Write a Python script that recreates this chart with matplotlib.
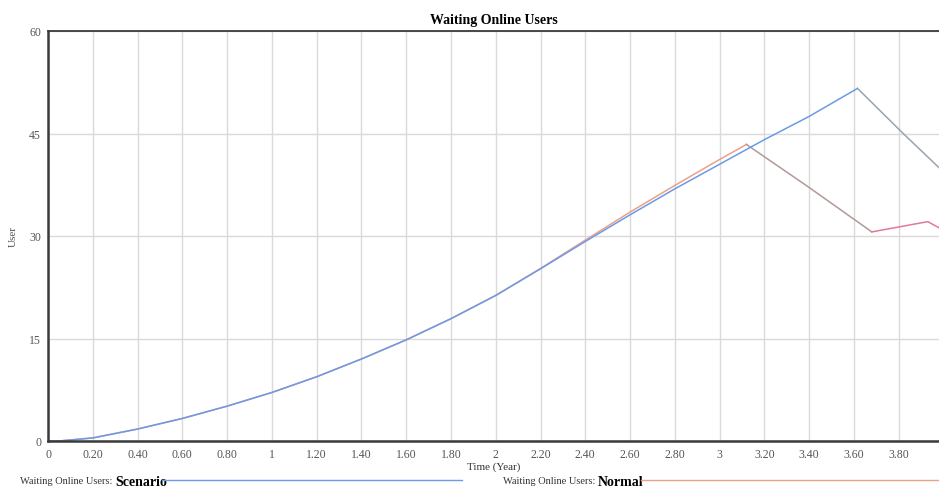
import matplotlib.pyplot as plt
from matplotlib.lines import Line2D

# values (Time in years -> users)
scenario_time = [0, 0.05, 0.2, 0.4, 0.6, 0.8, 1.0, 1.2, 1.4, 1.6, 1.8, 2.0,
                 2.2, 2.4, 2.6, 2.8, 3.0, 3.2, 3.4, 3.616, 3.82, 3.98]
scenario_users = [0, 0, 0.45, 1.75, 3.3, 5.1, 7.1, 9.4, 12.0, 14.8, 17.9, 21.3,
                  25.2, 29.2, 33.1, 36.9, 40.5, 44.1, 47.5, 51.6, 45.0, 40.0]

normal_time = [0, 0.05, 0.2, 0.4, 0.6, 0.8, 1.0, 1.2, 1.4, 1.6, 1.8, 2.0,
               2.2, 2.4, 2.6, 2.8, 3.0, 3.12, 3.4, 3.68, 3.93, 3.98]
normal_users = [0, 0, 0.45, 1.75, 3.3, 5.1, 7.1, 9.4, 12.0, 14.8, 17.9, 21.3,
                25.25, 29.4, 33.5, 37.4, 41.2, 43.4, 37.1, 30.6, 32.1, 31.2]

x_ticks = [0, 0.2, 0.4, 0.6, 0.8, 1.0, 1.2, 1.4, 1.6, 1.8, 2.0,
           2.2, 2.4, 2.6, 2.8, 3.0, 3.2, 3.4, 3.6, 3.8]
x_labels = ["0", "0.20", "0.40", "0.60", "0.80", "1", "1.20", "1.40", "1.60",
            "1.80", "2", "2.20", "2.40", "2.60", "2.80", "3", "3.20", "3.40",
            "3.60", "3.80"]
y_ticks = [0, 15, 30, 45, 60]

plt.rcParams["font.family"] = ["Liberation Serif", "DejaVu Serif"]

fig = plt.figure(figsize=(9.39, 4.89), dpi=100)
ax = fig.add_axes([48 / 939, 1 - 442 / 489, 1 - 48 / 939, (442 - 32) / 489])

scen_color = "#6b9ae6"
scen_fade = "#9aa3b0"
norm_color = "#eba08a"
norm_fade = "#b09a98"
norm_low = "#e27a96"

peak_s = scenario_users.index(max(scenario_users))
peak_n = normal_users.index(max(normal_users))
low_n = normal_users.index(min(normal_users[peak_n:]))

ax.plot(normal_time[:peak_n + 1], normal_users[:peak_n + 1], color=norm_color, lw=1.1)
ax.plot(normal_time[peak_n:low_n + 1], normal_users[peak_n:low_n + 1], color=norm_fade, lw=1.1)
ax.plot(normal_time[low_n:], normal_users[low_n:], color=norm_low, lw=1.1)
ax.plot(scenario_time[:peak_s + 1], scenario_users[:peak_s + 1], color=scen_color, lw=1.1)
ax.plot(scenario_time[peak_s:], scenario_users[peak_s:], color=scen_fade, lw=1.1)

ax.set_xlim(0, 3.98)
ax.set_ylim(0, 60)
ax.set_xticks(x_ticks)
ax.set_xticklabels(x_labels)
ax.set_yticks(y_ticks)
ax.tick_params(length=0, labelsize=8.5, colors="#555555", pad=5)
ax.grid(True, color="#dadada", lw=1)
ax.set_axisbelow(True)

for side in ["left", "bottom"]:
    ax.spines[side].set_color("#3a3a3a")
    ax.spines[side].set_linewidth(1.8)
ax.spines["top"].set_color("#3a3a3a")
ax.spines["top"].set_linewidth(1.3)
ax.spines["right"].set_visible(False)

ax.set_title("Waiting Online Users", fontsize=10, fontweight="bold", pad=6)
ax.set_xlabel("Time (Year)", fontsize=8, color="#333333", labelpad=1)
ax.set_ylabel("User", fontsize=8, color="#555555", labelpad=8)

# legend row under the chart
t1 = fig.text(20 / 939, 1 - 484 / 489, "Waiting Online Users: ", fontsize=7.5,
              color="#333333", va="baseline")
s1 = ax.annotate("Scenario", xy=(1, 0), xycoords=t1, fontsize=10,
                 fontweight="bold", va="baseline", ha="left")
fig.add_artist(Line2D([162 / 939, 462 / 939], [1 - 481 / 489] * 2,
                      transform=fig.transFigure, color=scen_color, lw=1))

t2 = fig.text(503 / 939, 1 - 484 / 489, "Waiting Online Users: ", fontsize=7.5,
              color="#333333", va="baseline")
s2 = ax.annotate("Normal", xy=(1, 0), xycoords=t2, fontsize=10,
                 fontweight="bold", va="baseline", ha="left")
fig.add_artist(Line2D([641 / 939, 1.0], [1 - 481 / 489] * 2,
                      transform=fig.transFigure, color=norm_color, lw=1))

fig.savefig("out.png", dpi=100)
